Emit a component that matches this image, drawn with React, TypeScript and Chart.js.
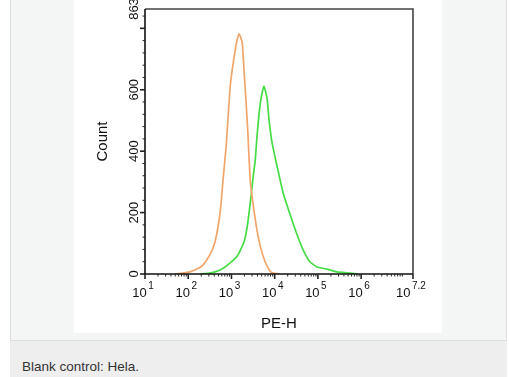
import React, { useEffect, useRef } from 'react';
import { Chart, registerables } from 'chart.js';

Chart.register(...registerables);

// ---- data (x in log10 units of PE-H, y = Count) ----
const orangeLog = [1.69, 1.88, 2.04, 2.2, 2.34, 2.5, 2.62, 2.74, 2.81, 2.88, 2.97, 3.04, 3.13, 3.18, 3.25, 3.29, 3.34, 3.38, 3.43, 3.48, 3.57, 3.66, 3.78, 3.89, 3.96, 4.12];
const orangeCount = [0, 3, 7, 16, 29, 62, 104, 202, 313, 420, 609, 687, 762, 782, 752, 664, 557, 459, 313, 248, 160, 94, 39, 10, 3, 0];

const greenLog = [2.27, 2.5, 2.74, 2.97, 3.15, 3.29, 3.36, 3.43, 3.5, 3.55, 3.59, 3.64, 3.69, 3.75, 3.82, 3.87, 3.94, 4.06, 4.19, 4.36, 4.52, 4.66, 4.82, 4.98, 5.21, 5.44, 5.75, 5.93];
const greenCount = [0, 3, 13, 36, 62, 104, 150, 225, 313, 371, 446, 524, 576, 612, 576, 502, 427, 348, 267, 192, 127, 78, 39, 23, 16, 7, 3, 0];

const xTickValues = [1, 2, 3, 4, 5, 6, 7.2];
const xTickExponents = ['1', '2', '3', '4', '5', '6', '7.2'];
const yTickValues = [0, 200, 400, 600, 863];
const yTickLabels = ['0', '200', '400', '600', '863'];
const yMajorTicks = [0, 200, 400, 600, 800];
const yMinorStep = 40;
const xMin = 1;
const xMax = 7.2;
const yMin = 0;
const yMax = 863;
const xTitle = 'PE-H';
const yTitle = 'Count';
const caption = 'Blank control: Hela.';

const FONT = 'Arial, "Liberation Sans", Helvetica, sans-serif';

const axesPlugin = {
  id: 'flowAxes',
  afterDraw(chart: any) {
    const { ctx, chartArea: a, scales } = chart;
    const xs = scales.x;
    const ys = scales.y;
    ctx.save();
    // frame (top + right)
    ctx.strokeStyle = '#444';
    ctx.lineWidth = 1.6;
    ctx.beginPath();
    ctx.moveTo(a.left, a.top);
    ctx.lineTo(a.right, a.top);
    ctx.lineTo(a.right, a.bottom);
    ctx.stroke();
    // axes (left + bottom)
    ctx.strokeStyle = '#111';
    ctx.beginPath();
    ctx.moveTo(a.left, a.top);
    ctx.lineTo(a.left, a.bottom);
    ctx.lineTo(a.right, a.bottom);
    ctx.stroke();

    // y ticks
    ctx.strokeStyle = '#222';
    for (let v = 0; v <= yMax; v += yMinorStep) {
      const major = yMajorTicks.includes(v);
      const py = ys.getPixelForValue(v);
      ctx.lineWidth = major ? 1.6 : 1;
      ctx.beginPath();
      ctx.moveTo(a.left, py);
      ctx.lineTo(a.left - (major ? 5 : 2.5), py);
      ctx.stroke();
    }
    // x ticks
    for (let d = 1; d <= 7; d++) {
      for (let k = 2; k <= 9; k++) {
        const v = d + Math.log10(k);
        if (v >= xMax) continue;
        const px = xs.getPixelForValue(v);
        ctx.lineWidth = 1;
        ctx.beginPath();
        ctx.moveTo(px, a.bottom);
        ctx.lineTo(px, a.bottom + 2.5);
        ctx.stroke();
      }
    }
    xTickValues.forEach((v) => {
      const px = xs.getPixelForValue(v);
      ctx.lineWidth = 1.6;
      ctx.beginPath();
      ctx.moveTo(px, a.bottom);
      ctx.lineTo(px, a.bottom + 5);
      ctx.stroke();
    });

    ctx.fillStyle = '#111';
    // x tick labels 10^n
    xTickValues.forEach((v, i) => {
      const px = xs.getPixelForValue(v);
      ctx.font = `13px ${FONT}`;
      const w1 = ctx.measureText('10').width;
      ctx.font = `10px ${FONT}`;
      const w2 = ctx.measureText(xTickExponents[i]).width;
      const total = w1 + 1.5 + w2;
      const sx = px - total / 2 - 2;
      ctx.textAlign = 'left';
      ctx.textBaseline = 'alphabetic';
      ctx.font = `13px ${FONT}`;
      ctx.fillText('10', sx, a.bottom + 23);
      ctx.font = `10px ${FONT}`;
      ctx.fillText(xTickExponents[i], sx + w1 + 1.5, a.bottom + 14.5);
    });

    // y tick labels (rotated)
    ctx.font = `13px ${FONT}`;
    yTickValues.forEach((v, i) => {
      const py = ys.getPixelForValue(v);
      ctx.save();
      ctx.translate(a.left - 7, py);
      ctx.rotate(-Math.PI / 2);
      ctx.textAlign = 'center';
      ctx.textBaseline = 'alphabetic';
      ctx.fillText(yTickLabels[i], 0, 0);
      ctx.restore();
    });

    // titles
    ctx.font = `15px ${FONT}`;
    ctx.textAlign = 'center';
    ctx.textBaseline = 'alphabetic';
    ctx.fillText(xTitle, (a.left + a.right) / 2, a.bottom + 54);
    ctx.save();
    ctx.translate(a.left - 38, (a.top + a.bottom) / 2);
    ctx.rotate(-Math.PI / 2);
    ctx.fillText(yTitle, 0, 0);
    ctx.restore();

    ctx.restore();
  },
};

function FlowChart() {
  const ref = useRef<HTMLCanvasElement | null>(null);
  useEffect(() => {
    if (!ref.current) return;
    const chart = new Chart(ref.current, {
      type: 'line',
      data: {
        datasets: [
          {
            label: 'Blank control',
            data: orangeLog.map((x, i) => ({ x, y: orangeCount[i] })),
            borderColor: '#f2a56a',
            borderWidth: 1.7,
            pointRadius: 0,
            fill: false,
            tension: 0.15,
          },
          {
            label: 'Sample',
            data: greenLog.map((x, i) => ({ x, y: greenCount[i] })),
            borderColor: '#45dc45',
            borderWidth: 1.7,
            pointRadius: 0,
            fill: false,
            tension: 0.15,
          },
        ],
      },
      options: {
        animation: false,
        responsive: false,
        devicePixelRatio: 1,
        layout: { padding: { left: 71, right: 29, top: 9, bottom: 59 } },
        plugins: { legend: { display: false }, tooltip: { enabled: false } },
        scales: {
          x: { type: 'linear', min: xMin, max: xMax, display: false },
          y: { type: 'linear', min: yMin, max: yMax, display: false },
        },
      },
      plugins: [axesPlugin],
    });
    return () => chart.destroy();
  }, []);
  return <canvas ref={ref} width={368} height={333} style={{ display: 'block', background: '#fff' }} />;
}

export default function App() {
  return (
    <div style={{ position: 'absolute', left: 0, top: 0, width: 510, height: 377, background: '#fff', overflow: 'hidden', fontFamily: FONT }}>
      <div style={{ position: 'absolute', left: 10, top: -1, width: 497, height: 342, background: '#f4f6f6', border: '1px solid #dcdddd', boxSizing: 'border-box' }} />
      <div style={{ position: 'absolute', left: 10, top: 341, width: 497, height: 36, background: '#eeeeee' }}>
        <span style={{ position: 'absolute', left: 12, top: 18, fontSize: 13.5, lineHeight: '15px', color: '#333', whiteSpace: 'nowrap' }}>{caption}</span>
      </div>
      <div style={{ position: 'absolute', left: 74, top: 0, width: 368, height: 333 }}>
        <FlowChart />
      </div>
    </div>
  );
}
